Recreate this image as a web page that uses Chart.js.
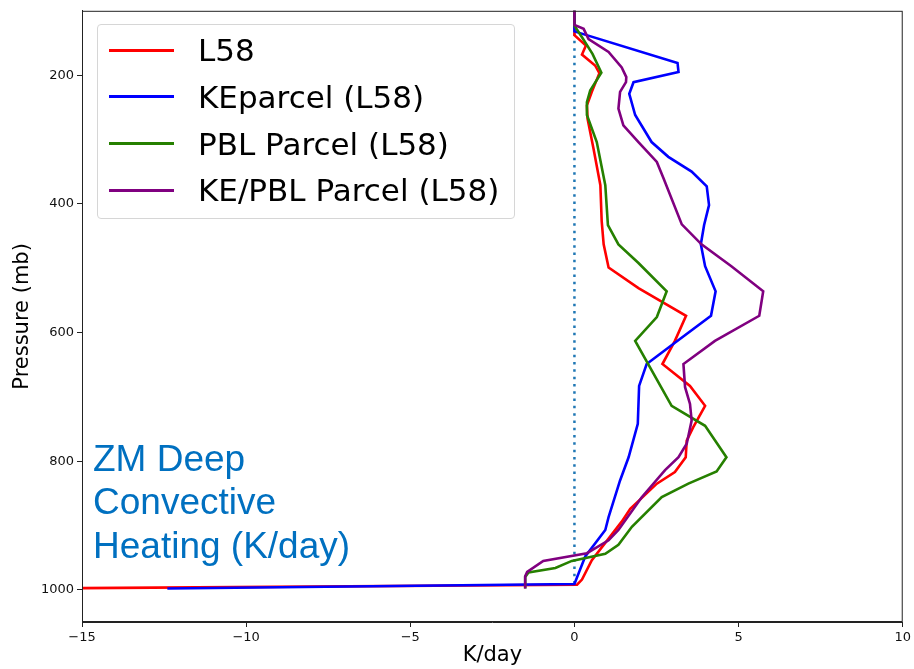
<!DOCTYPE html>
<html>
<head>
<meta charset="utf-8">
<title>ZM Deep Convective Heating</title>
<script src="https://cdn.jsdelivr.net/npm/chart.js@4"></script>
<style>
    html, body {
        margin: 0;
        padding: 0;
        background: #fff;
    }
    #wrap {
        position: relative;
        width: 914px;
        height: 669px;
    }
    #legend {
        position: absolute;
        left: 97px;
        top: 24px;
        width: 418px;
        height: 195px;
        border: 1px solid #d6d6d6;
        border-radius: 4px;
        background: rgba(255, 255, 255, 0.8);
        font-family: "DejaVu Sans", sans-serif;
        font-size: 31px;
        color: #000;
        padding-top: 2px;
        box-sizing: border-box;
    }
    .legend-row {
        display: flex;
        align-items: center;
        height: 46.67px;
        white-space: nowrap;
    }
    .legend-line {
        width: 65px;
        height: 3px;
        margin-left: 11px;
        margin-right: 24px;
    }
    #note {
        position: absolute;
        left: 93px;
        top: 437px;
        font-family: "Liberation Sans", Arial, sans-serif;
        font-size: 37px;
        line-height: 43.3px;
        color: #0070c0;
    }
</style>
</head>
<body>
<div id="wrap">
    <canvas id="chart" width="914" height="669"></canvas>
    <div id="legend"></div>
    <div id="note">ZM Deep<br>Convective<br>Heating (K/day)</div>
</div>
<script>
// Heating profiles: pressure (mb) and heating (K/day) per series

const seriesNames = ['L58', 'KEparcel (L58)', 'PBL Parcel (L58)', 'KE/PBL Parcel (L58)'];
const seriesColors = ['#ff0000', '#0000ff', '#268000', '#800080'];

const l58Pres = [90, 138, 154, 168, 185, 197, 226, 247, 268, 314, 371, 427, 463, 499, 531, 574, 613, 649, 683, 714, 747, 768, 794, 817, 835, 874, 894, 954, 984, 992, 998];
const l58Heat = [0, 0, 0.35, 0.23, 0.63, 0.76, 0.53, 0.38, 0.40, 0.58, 0.79, 0.83, 0.89, 1.04, 1.95, 3.40, 3.06, 2.68, 3.52, 3.98, 3.62, 3.42, 3.39, 3.06, 2.51, 1.70, 1.44, 0.53, 0.23, 0.08, -17];

const kePres = [90, 132, 181, 195, 211, 229, 262, 304, 327, 350, 373, 402, 433, 463, 497, 536, 574, 616, 649, 683, 742, 794, 830, 887, 907, 948, 991, 998];
const keHeat = [0, 0, 3.14, 3.17, 1.80, 1.67, 1.85, 2.35, 2.86, 3.57, 4.03, 4.10, 3.95, 3.85, 3.98, 4.30, 4.16, 3.06, 2.20, 1.97, 1.93, 1.65, 1.39, 1.04, 0.94, 0.33, 0.0, -12.4];

const pblPres = [90, 123, 141, 167, 196, 224, 242, 262, 304, 371, 433, 463, 492, 536, 576, 613, 714, 745, 794, 816, 835, 856, 902, 930, 944, 955, 966, 973, 980, 991, 998];
const pblHeat = [0, 0, 0.23, 0.55, 0.82, 0.48, 0.38, 0.38, 0.68, 0.94, 1.02, 1.34, 1.95, 2.81, 2.51, 1.85, 2.96, 3.98, 4.63, 4.33, 3.47, 2.66, 1.75, 1.34, 0.94, -0.08, -0.58, -1.40, -1.50, -1.50, -1.50];

const kepblPres = [90, 122, 128, 144, 164, 188, 203, 211, 226, 252, 278, 304, 335, 360, 432, 463, 497, 536, 574, 613, 649, 685, 711, 737, 773, 794, 814, 856, 907, 923, 943, 955, 972, 979, 991, 998];
const kepblHeat = [0, 0, 0.28, 0.43, 1.04, 1.44, 1.58, 1.57, 1.39, 1.34, 1.49, 1.95, 2.51, 2.71, 3.27, 3.87, 4.78, 5.75, 5.63, 4.28, 3.32, 3.37, 3.52, 3.57, 3.42, 3.17, 2.76, 2.05, 1.34, 1.04, 0.38, -0.95, -1.44, -1.50, -1.50, -1.50];

// zero reference line
const zeroPres = [90, 992];
const zeroHeat = [0, 0];

const yTicks = [200, 400, 600, 800, 1000];
const xTicks = [-15, -10, -5, 0, 5, 10];

const presList = [l58Pres, kePres, pblPres, kepblPres];
const heatList = [l58Heat, keHeat, pblHeat, kepblHeat];

function toPoints(pres, heat) {
    return pres.map((p, i) => ({ x: heat[i], y: p }));
}

const datasets = seriesNames.map((name, i) => ({
    label: name,
    data: toPoints(presList[i], heatList[i]),
    borderColor: seriesColors[i],
    borderWidth: 2.6,
    pointRadius: 0,
    showLine: true,
    fill: false,
    order: seriesNames.length - 1 - i   // last series drawn on top
}));

datasets.push({
    label: 'zero',
    data: toPoints(zeroPres, zeroHeat),
    borderColor: '#1f77b4',
    borderWidth: 2.5,
    borderDash: [2.5, 4.8],
    pointRadius: 0,
    showLine: true,
    fill: false,
    order: 10
});

// box around the plot area (top and right spines too)
const frame = {
    id: 'frame',
    afterDraw(chart) {
        const a = chart.chartArea;
        const ctx = chart.ctx;
        ctx.save();
        ctx.strokeStyle = '#222';
        ctx.lineWidth = 1;
        ctx.strokeRect(a.left + 0.5, a.top + 0.5, a.right - a.left - 1, a.bottom - a.top - 1);
        ctx.restore();
    }
};

const tickFont = { family: 'DejaVu Sans', size: 13 };
const titleFont = { family: 'DejaVu Sans', size: 21 };

new Chart(document.getElementById('chart'), {
    type: 'scatter',
    data: { datasets },
    plugins: [frame],
    options: {
        responsive: false,
        animation: false,
        layout: { padding: { top: 8, right: 9, left: 0, bottom: 0 } },
        plugins: {
            legend: { display: false },
            tooltip: { enabled: false }
        },
        scales: {
            x: {
                type: 'linear',
                min: -15,
                max: 10,
                afterBuildTicks: (scale) => { scale.ticks = xTicks.map(v => ({ value: v })); },
                afterFit: (scale) => { scale.height = 47; },
                ticks: {
                    font: tickFont,
                    color: '#111',
                    padding: 3,
                    maxRotation: 0,
                    callback: (v) => String(v).replace('-', '\u2212')
                },
                grid: { drawOnChartArea: false, drawTicks: true, tickLength: 5, color: '#222' },
                border: { color: '#222' },
                title: { display: true, text: 'K/day', font: titleFont, color: '#000', padding: { top: 0, bottom: 1 } }
            },
            y: {
                type: 'linear',
                reverse: true,
                min: 100,
                max: 1050,
                afterBuildTicks: (scale) => { scale.ticks = yTicks.map(v => ({ value: v })); },
                afterFit: (scale) => { scale.width = 82; },
                ticks: { font: tickFont, color: '#111', padding: 3, callback: (v) => String(v) },
                grid: { drawOnChartArea: false, drawTicks: true, tickLength: 5, color: '#222' },
                border: { color: '#222' },
                title: { display: true, text: 'Pressure (mb)', font: titleFont, color: '#000', padding: { top: 10, bottom: 0 } }
            }
        }
    }
});

// legend box built from the same names and colours
const legend = document.getElementById('legend');
seriesNames.forEach((name, i) => {
    const row = document.createElement('div');
    row.className = 'legend-row';
    const line = document.createElement('div');
    line.className = 'legend-line';
    line.style.background = seriesColors[i];
    const label = document.createElement('span');
    label.textContent = name;
    row.appendChild(line);
    row.appendChild(label);
    legend.appendChild(row);
});
</script>
</body>
</html>
